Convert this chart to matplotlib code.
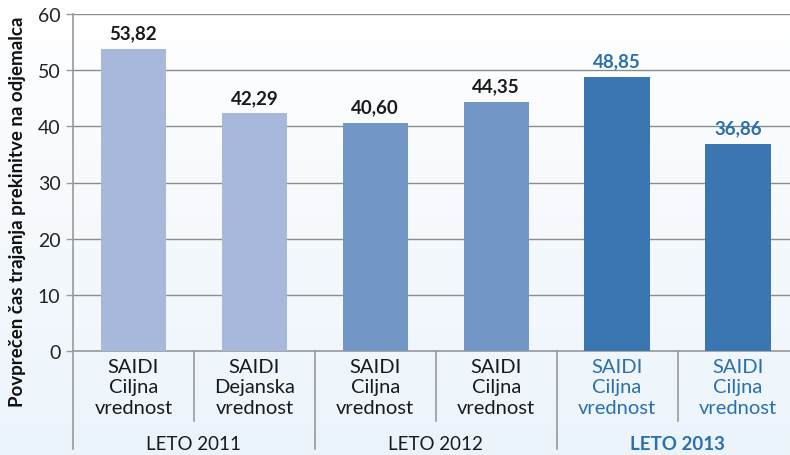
import matplotlib.pyplot as plt
import numpy as np

plt.rcParams['font.family'] = ['Lato', 'DejaVu Sans']

values = [53.82, 42.29, 40.60, 44.35, 48.85, 36.86]
value_labels = ['53,82', '42,29', '40,60', '44,35', '48,85', '36,86']
cat_labels = ['SAIDI\nCiljna\nvrednost', 'SAIDI\nDejanska\nvrednost',
              'SAIDI\nCiljna\nvrednost', 'SAIDI\nCiljna\nvrednost',
              'SAIDI\nCiljna\nvrednost', 'SAIDI\nCiljna\nvrednost']
groups = ['LETO 2011', 'LETO 2012', 'LETO 2013']
bar_colors = ['#a8b8db', '#a8b8db', '#7297c7', '#7297c7', '#3a76b2', '#3a76b2']
text_colors = ['#1a1a1a', '#1a1a1a', '#1a1a1a', '#1a1a1a', '#2b6fad', '#2b6fad']
group_colors = ['#1a1a1a', '#1a1a1a', '#2b6fad']

fig = plt.figure(figsize=(7.9, 4.56), dpi=100)

# background gradient
bg = fig.add_axes([0, 0, 1, 1], zorder=-10)
grad = np.linspace(0, 1, 256).reshape(-1, 1)
top = np.array([1.0, 1.0, 1.0])
bottom = np.array([0.925, 0.957, 0.984])
img = top + (bottom - top) * grad[:, :, None]
bg.imshow(img, aspect='auto', extent=[0, 1, 0, 1])
bg.axis('off')

ax = fig.add_axes([73 / 790, 104 / 456, 1 - 73 / 790, 337 / 456])
ax.set_facecolor('none')

x = np.arange(len(values))
ax.bar(x, values, width=0.54, color=bar_colors, zorder=3)

for xi, v, lab, c in zip(x, values, value_labels, text_colors):
    ax.text(xi, v + 1.3, lab, ha='center', va='bottom', fontsize=13.5,
            fontweight='bold', color=c)

ax.set_xlim(-0.5, 5.43)
ax.set_ylim(0, 60)
ax.set_yticks(range(0, 61, 10))
ax.yaxis.grid(True, color='#8c8c8c', linewidth=1.0, zorder=1)
ax.tick_params(axis='y', length=5, width=1, color='#999999', labelsize=14,
               labelcolor='#222222', pad=4)
ax.set_xticks([])
for s in ['top', 'right']:
    ax.spines[s].set_visible(False)
ax.spines['left'].set_color('#999999')
ax.spines['bottom'].set_color('#999999')
ax.spines['left'].set_linewidth(1.2)
ax.spines['bottom'].set_linewidth(1.2)

trans = ax.get_xaxis_transform()
for xi, lab, c in zip(x, cat_labels, text_colors):
    ax.text(xi, -0.022, lab, ha='center', va='top', fontsize=14.5,
            color=c, linespacing=1.22, transform=trans)

# separators
for i in range(len(values)):
    xs = i - 0.5
    if i % 2 == 0:
        ax.plot([xs, xs], [0, -0.291], transform=trans, clip_on=False,
                color='#999999', linewidth=1.2)
    else:
        ax.plot([xs, xs], [0, -0.208], transform=trans, clip_on=False,
                color='#999999', linewidth=1.2)

for g, (lab, c) in enumerate(zip(groups, group_colors)):
    ax.text(2 * g + 0.5, -0.273, lab, ha='center', va='center', fontsize=13.5,
            color=c, fontweight='bold' if g == 2 else 'normal', transform=trans)

fig.text(0.022, 0.535, 'Povprečen čas trajanja prekinitve na odjemalca',
         rotation=90, ha='center', va='center', fontsize=13.5,
         fontweight='bold', color='#111111')

fig.savefig('out.png', dpi=100)
